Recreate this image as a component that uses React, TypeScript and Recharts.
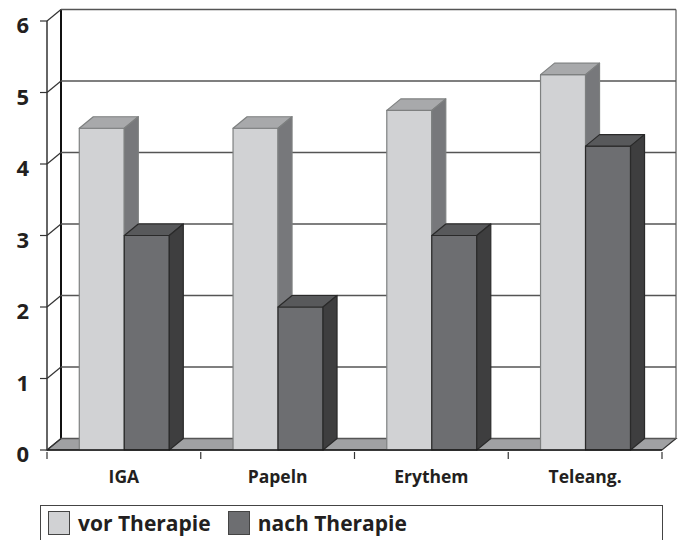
import React from "react";
import { BarChart, Bar, XAxis, YAxis, CartesianGrid, Legend } from "recharts";

const categories = ["IGA", "Papeln", "Erythem", "Teleang."];
const vorTherapie = [4.5, 4.5, 4.75, 5.25];
const nachTherapie = [3, 2, 3, 4.25];
const yTicks = [0, 1, 2, 3, 4, 5, 6];
const seriesNames = ["vor Therapie", "nach Therapie"];

const data = categories.map((name, i) => ({
  name,
  vor: vorTherapie[i],
  nach: nachTherapie[i],
}));

// depth of the fake 3D projection
const DX = 14;
const DY = -11.5;
const FONT = "'Open Sans', 'Noto Sans', sans-serif";
const INK = "#231f20";

const makeBox = (front: string, top: string, side: string, edge: string) => (props: any) => {
  const { x, y, width: w, height: h } = props;
  if (x == null || y == null || !w || h == null) return null;
  return (
    <g strokeWidth={1.2} stroke={edge} strokeLinejoin="round">
      <rect x={x} y={y} width={w} height={h} fill={front} />
      <polygon
        points={`${x},${y} ${x + DX},${y + DY} ${x + w + DX},${y + DY} ${x + w},${y}`}
        fill={top}
      />
      <polygon
        points={`${x + w},${y} ${x + w + DX},${y + DY} ${x + w + DX},${y + h + DY} ${x + w},${y + h}`}
        fill={side}
      />
    </g>
  );
};

const lightBox = makeBox("#d1d2d4", "#a8a9ab", "#77787b", "#7e8080");
const darkBox = makeBox("#6d6e71", "#58595b", "#3e3e3f", "#2a2a2a");

const gridLine = (props: any) => {
  const { x1, x2, y1, index, horizontalPoints } = props;
  const pts: number[] = horizontalPoints && horizontalPoints.length ? horizontalPoints : [y1];
  const top = Math.min(...pts);
  const bottom = Math.max(...pts);
  return (
    <g key={`grid-${index}`}>
      {index === 0 && (
        <g>
          <polygon
            points={`${x1},${bottom} ${x1 + DX},${bottom + DY} ${x2 + DX},${bottom + DY} ${x2},${bottom}`}
            fill="#a0a1a3"
            stroke="#333"
            strokeWidth={1.2}
          />
          <line x1={x1 + DX} y1={top + DY} x2={x1 + DX} y2={bottom + DY} stroke="#111" strokeWidth={2} />
          <line x1={x2 + DX} y1={top + DY} x2={x2 + DX} y2={bottom + DY} stroke="#666" strokeWidth={1.3} />
        </g>
      )}
      <line x1={x1 + DX} y1={y1 + DY} x2={x2 + DX} y2={y1 + DY} stroke="#555" strokeWidth={1.3} />
      <line x1={x1} y1={y1} x2={x1 + DX} y2={y1 + DY} stroke="#333" strokeWidth={1.2} />
    </g>
  );
};

const YTick = (props: any) => {
  const { x, y, payload } = props;
  return (
    <text x={x} y={y + 12} textAnchor="end" fontFamily={FONT} fontWeight={700} fontSize={22} fill={INK}>
      {payload.value}
    </text>
  );
};

const XTick = (props: any) => {
  const { x, y, payload, index, visibleTicksCount, width } = props;
  const half = payload.offset || (width && visibleTicksCount ? width / visibleTicksCount / 2 : 77);
  return (
    <g>
      <line x1={x - half} y1={y} x2={x - half} y2={y + 7} stroke="#333" strokeWidth={1.2} />
      {index === visibleTicksCount - 1 && (
        <line x1={x + half} y1={y} x2={x + half} y2={y + 7} stroke="#333" strokeWidth={1.2} />
      )}
      <text x={x} y={y + 31} textAnchor="middle" fontFamily={FONT} fontWeight={700} fontSize={17.5} fill={INK}>
        {payload.value}
      </text>
    </g>
  );
};

const renderLegend = (props: any) => {
  const payload = [...(props.payload || [])].sort(
    (a: any, b: any) => seriesNames.indexOf(a.value) - seriesNames.indexOf(b.value)
  );
  return (
    <div
      style={{
        border: "1.5px solid #444",
        height: 40,
        boxSizing: "border-box",
        display: "flex",
        alignItems: "flex-start",
        paddingLeft: 7,
        paddingTop: 5,
        fontFamily: FONT,
        fontWeight: 700,
        fontSize: 21,
        color: INK,
        background: "#fff",
      }}
    >
      {payload.map((item: any, i: number) => (
        <div key={i} style={{ display: "flex", alignItems: "center", marginRight: 17 }}>
          <span
            style={{
              display: "inline-block",
              width: 22,
              height: 24,
              background: item.color,
              border: "1.5px solid #444",
              boxSizing: "border-box",
              marginRight: 8,
            }}
          />
          <span style={{ lineHeight: "24px" }}>{item.value}</span>
        </div>
      ))}
    </div>
  );
};

export default function App() {
  return (
    <div style={{ width: 682, height: 540, overflow: "hidden", position: "relative", background: "#fff" }}>
      <style>{`body{margin:0}`}</style>
      <BarChart
        width={682}
        height={540}
        data={data}
        margin={{ top: 21, right: 20, bottom: 50, left: 0 }}
        barCategoryGap="21%"
        barGap={0}
      >
        <CartesianGrid vertical={false} horizontal={gridLine} />
        <XAxis
          dataKey="name"
          height={40}
          interval={0}
          tickSize={0}
          tickLine={false}
          axisLine={{ stroke: "#1a1a1a", strokeWidth: 1.5 }}
          tick={<XTick />}
        />
        <YAxis
          type="number"
          domain={[0, 6]}
          ticks={yTicks}
          interval={0}
          width={47}
          tickSize={7}
          tickMargin={11}
          axisLine={{ stroke: "#333", strokeWidth: 1.5 }}
          tickLine={{ stroke: "#333", strokeWidth: 1.2 }}
          tick={<YTick />}
        />
        <Bar dataKey="vor" name="vor Therapie" fill="#d1d2d4" shape={lightBox} isAnimationActive={false} />
        <Bar dataKey="nach" name="nach Therapie" fill="#6d6e71" shape={darkBox} isAnimationActive={false} />
        <Legend
          layout="horizontal"
          verticalAlign="middle"
          align="center"
          content={renderLegend}
          wrapperStyle={{ left: 40, top: 505, width: 623 }}
        />
      </BarChart>
    </div>
  );
}
